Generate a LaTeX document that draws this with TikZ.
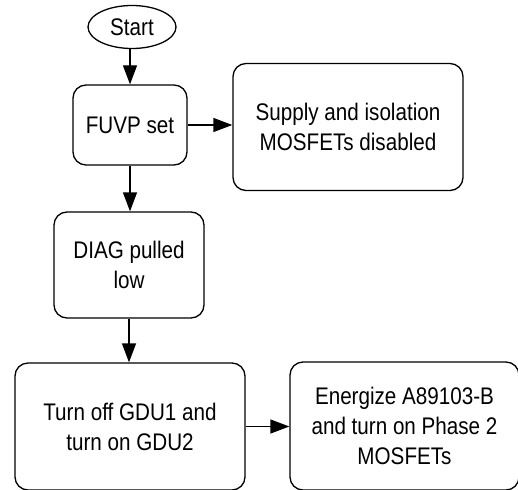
\documentclass[tikz,border=0pt]{standalone}
\usepackage{fontspec}
\setmainfont[FakeStretch=0.86]{Liberation Sans}
\usetikzlibrary{shapes.geometric,arrows.meta}
\begin{document}
\begin{tikzpicture}[x=1pt,y=-1pt,
    every node/.style={font=\fontsize{24}{30}\selectfont},
    box/.style={draw,line width=1.3pt,rounded corners=13pt,align=center,inner sep=0pt},
    flow/.style={line width=1.3pt,-{Triangle[length=19pt,width=14pt]}}]
    \useasboundingbox (0,0) rectangle (518,489);
    \node[draw,ellipse,line width=1.3pt,minimum width=88pt,minimum height=43pt,inner sep=0pt] (start) at (132,27) {Start};
    \node[box,minimum width=114pt,minimum height=80pt] (fuvp) at (130,125) {FUVP set};
    \node[box,minimum width=230pt,minimum height=127pt] (supply) at (348,127) {Supply and isolation\\MOSFETs disabled};
    \node[box,minimum width=150pt,minimum height=106pt] (diag) at (129,265) {DIAG pulled\\low};
    \node[box,minimum width=230pt,minimum height=127pt] (gdu) at (130,426.5) {Turn off GDU1 and\\turn on GDU2};
    \node[box,minimum width=229pt,minimum height=128pt] (energize) at (404.5,426) {Energize A89103-B\\and turn on Phase 2\\MOSFETs};
    \draw[flow] (start.south -| fuvp.north) -- (fuvp.north);
    \draw[flow] (fuvp.east) -- (fuvp.east -| supply.west);
    \draw[flow] (fuvp.south) -- (fuvp.south |- diag.north);
    \draw[flow] (diag.south) -- (diag.south |- gdu.north);
    \draw[flow] (gdu.east) -- (gdu.east -| energize.west);
\end{tikzpicture}
\end{document}
